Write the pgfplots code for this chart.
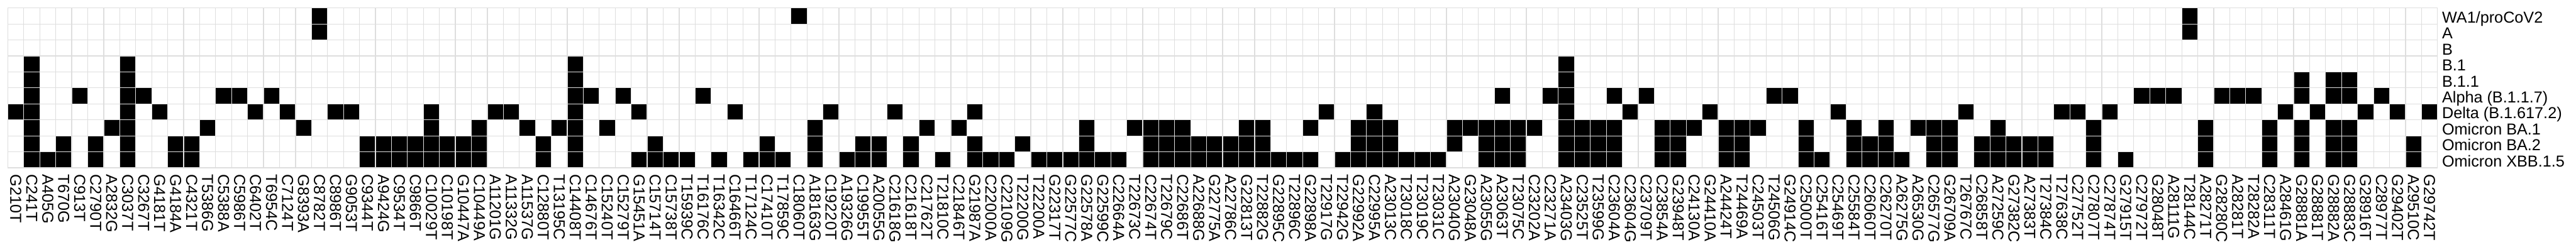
\documentclass[border=0pt]{standalone}
\usepackage{pgfplots}
\pgfplotsset{compat=1.18}
\usepackage{fontspec}
\setmainfont{Liberation Sans}
\definecolor{gridgray}{RGB}{222,222,222}
\begin{document}
\begin{tikzpicture}
\begin{axis}[
  name=ax, at={(0,0)}, anchor=south west,
  scale only axis, width=1267.1pt, height=83.36pt,
  xmin=0.5, xmax=152.5, ymin=0.5, ymax=10.5,
  axis line style={draw=gridgray, line width=0.4pt},
  major tick length=0pt, minor tick length=0pt,
  xtick={1,...,152}, ytick={1,...,10},
  minor xtick={0.5,1.5,...,152.5}, minor ytick={0.5,1.5,...,10.5},
  xminorgrids=true, yminorgrids=true,
  minor grid style={draw=gridgray, line width=0.4pt},
  yticklabel pos=right,
  tick label style={font=\fontsize{8.27}{9.9}\selectfont, inner sep=0.333em},
  xticklabel style={rotate=-90, anchor=west},
  yticklabel style={anchor=west, text height=0.72em, text depth=0pt, inner xsep=2.2pt},
  xticklabels={G210T,C241T,A405G,T670G,C913T,C2790T,A2832G,C3037T,C3267T,G4181T,G4184A,C4321T,T5386G,C5388A,C5986T,C6402T,T6954C,C7124T,G8393A,C8782T,C8986T,G9053T,C9344T,A9424G,C9534T,C9866T,C10029T,C10198T,G10447A,C10449A,A11201G,A11332G,A11537G,C12880T,T13195C,C14408T,C14676T,C15240T,C15279T,G15451A,C15714T,C15738T,T15939C,T16176C,T16342C,C16466T,T17124C,C17410T,T17859C,C18060T,A18163G,C19220T,A19326G,C19955T,A20055G,C21618G,C21618T,C21762T,T21810C,C21846T,G21987A,C22000A,C22109G,T22200G,T22200A,G22317T,G22577C,G22578A,G22599C,C22664A,T22673C,C22674T,T22679C,C22686T,A22688G,G22775A,A22786C,G22813T,T22882G,G22895C,T22896C,G22898A,T22917G,T22942G,G22992A,C22995A,A23013C,T23018C,T23019C,T23031C,A23040G,G23048A,A23055G,A23063T,T23075C,C23202A,C23271A,A23403G,C23525T,T23599G,C23604A,C23604G,C23709T,C23854A,G23948T,C24130A,G24410A,A24424T,T24469A,C24503T,T24506G,G24914C,C25000T,C25416T,C25469T,C25584T,C26060T,C26270T,A26275G,A26530G,C26577G,G26709A,T26767C,C26858T,A27259C,G27382C,A27383T,T27384C,T27638C,C27752T,C27807T,C27874T,G27915T,C27972T,G28048T,A28111G,T28144C,A28271T,G28280C,A28281T,T28282A,C28311T,A28461G,G28881A,G28881T,G28882A,G28883C,G28916T,C28977T,G29402T,A29510C,G29742T},
  yticklabels={Omicron XBB.1.5,Omicron BA.2,Omicron BA.1,Delta (B.1.617.2),Alpha (B.1.1.7),B.1.1,B.1,B,A,WA1/proCoV2},
]
\addplot[only marks, mark=square*, mark size=4.168pt, mark options={fill=black, draw=gridgray, line width=0.4pt}] coordinates {
(1,4)
(2,7)(2,6)(2,5)(2,4)(2,3)(2,2)(2,1)
(3,1)
(4,2)(4,1)
(5,5)
(6,2)(6,1)
(7,3)
(8,7)(8,6)(8,5)(8,4)(8,3)(8,2)(8,1)
(9,5)
(10,4)
(11,2)(11,1)
(12,2)(12,1)
(13,3)
(14,5)
(15,5)
(16,4)
(17,5)
(18,4)
(19,3)
(20,10)(20,9)
(21,4)
(22,4)
(23,2)(23,1)
(24,2)(24,1)
(25,2)(25,1)
(26,2)(26,1)
(27,4)(27,3)(27,2)(27,1)
(28,2)(28,1)
(29,2)(29,1)
(30,3)(30,2)(30,1)
(31,4)
(32,4)
(33,3)
(34,2)(34,1)
(35,3)
(36,7)(36,6)(36,5)(36,4)(36,3)(36,2)(36,1)
(37,5)
(38,3)
(39,5)
(40,4)(40,1)
(41,2)(41,1)
(42,1)
(43,1)
(44,5)
(45,1)
(46,4)
(47,1)
(48,2)(48,1)
(49,1)
(50,10)
(51,3)(51,2)(51,1)
(52,4)
(53,1)
(54,2)(54,1)
(55,2)(55,1)
(56,4)
(57,2)(57,1)
(58,3)
(59,1)
(60,3)
(61,4)(61,2)(61,1)
(62,1)
(63,1)
(64,2)
(65,1)
(66,1)
(67,1)
(68,3)(68,2)(68,1)
(69,1)
(70,1)
(71,3)
(72,3)(72,2)(72,1)
(73,3)(73,2)(73,1)
(74,3)(74,2)(74,1)
(75,2)(75,1)
(76,2)(76,1)
(77,2)(77,1)
(78,3)(78,2)(78,1)
(79,3)(79,2)(79,1)
(80,1)
(81,1)
(82,3)(82,1)
(83,4)
(84,1)
(85,3)(85,2)(85,1)
(86,4)(86,3)(86,2)(86,1)
(87,3)(87,2)(87,1)
(88,1)
(89,1)
(90,1)
(91,3)(91,2)
(92,3)
(93,3)(93,2)(93,1)
(94,5)(94,3)(94,2)(94,1)
(95,3)(95,2)(95,1)
(96,3)
(97,5)
(98,7)(98,6)(98,5)(98,4)(98,3)(98,2)(98,1)
(99,3)(99,2)(99,1)
(100,3)(100,2)(100,1)
(101,5)(101,3)(101,2)(101,1)
(102,4)
(103,5)
(104,3)(104,2)(104,1)
(105,3)(105,2)(105,1)
(106,3)
(107,4)
(108,3)(108,2)(108,1)
(109,3)(109,2)(109,1)
(110,3)
(111,5)
(112,5)
(113,3)(113,2)(113,1)
(114,1)
(115,4)
(116,3)(116,2)(116,1)
(117,2)(117,1)
(118,3)(118,2)(118,1)
(119,1)
(120,3)
(121,3)(121,2)(121,1)
(122,3)(122,2)(122,1)
(123,4)
(124,2)(124,1)
(125,3)(125,2)(125,1)
(126,2)(126,1)
(127,2)(127,1)
(128,2)(128,1)
(129,4)
(130,4)
(131,3)(131,2)(131,1)
(132,4)
(133,1)
(134,5)
(135,5)
(136,5)
(137,10)(137,9)
(138,3)(138,2)(138,1)
(139,5)
(140,5)
(141,5)
(142,3)(142,2)(142,1)
(143,4)
(144,6)(144,5)(144,3)(144,2)(144,1)
(145,4)
(146,6)(146,5)(146,3)(146,2)(146,1)
(147,6)(147,5)(147,3)(147,2)(147,1)
(148,4)
(149,5)
(150,4)
(151,2)(151,1)
(152,4)
};
\end{axis}
\pgfresetboundingbox
\path[use as bounding box] (-4.08pt,-43.84pt) rectangle (1339.32pt,87.56pt);
\end{tikzpicture}
\end{document}
